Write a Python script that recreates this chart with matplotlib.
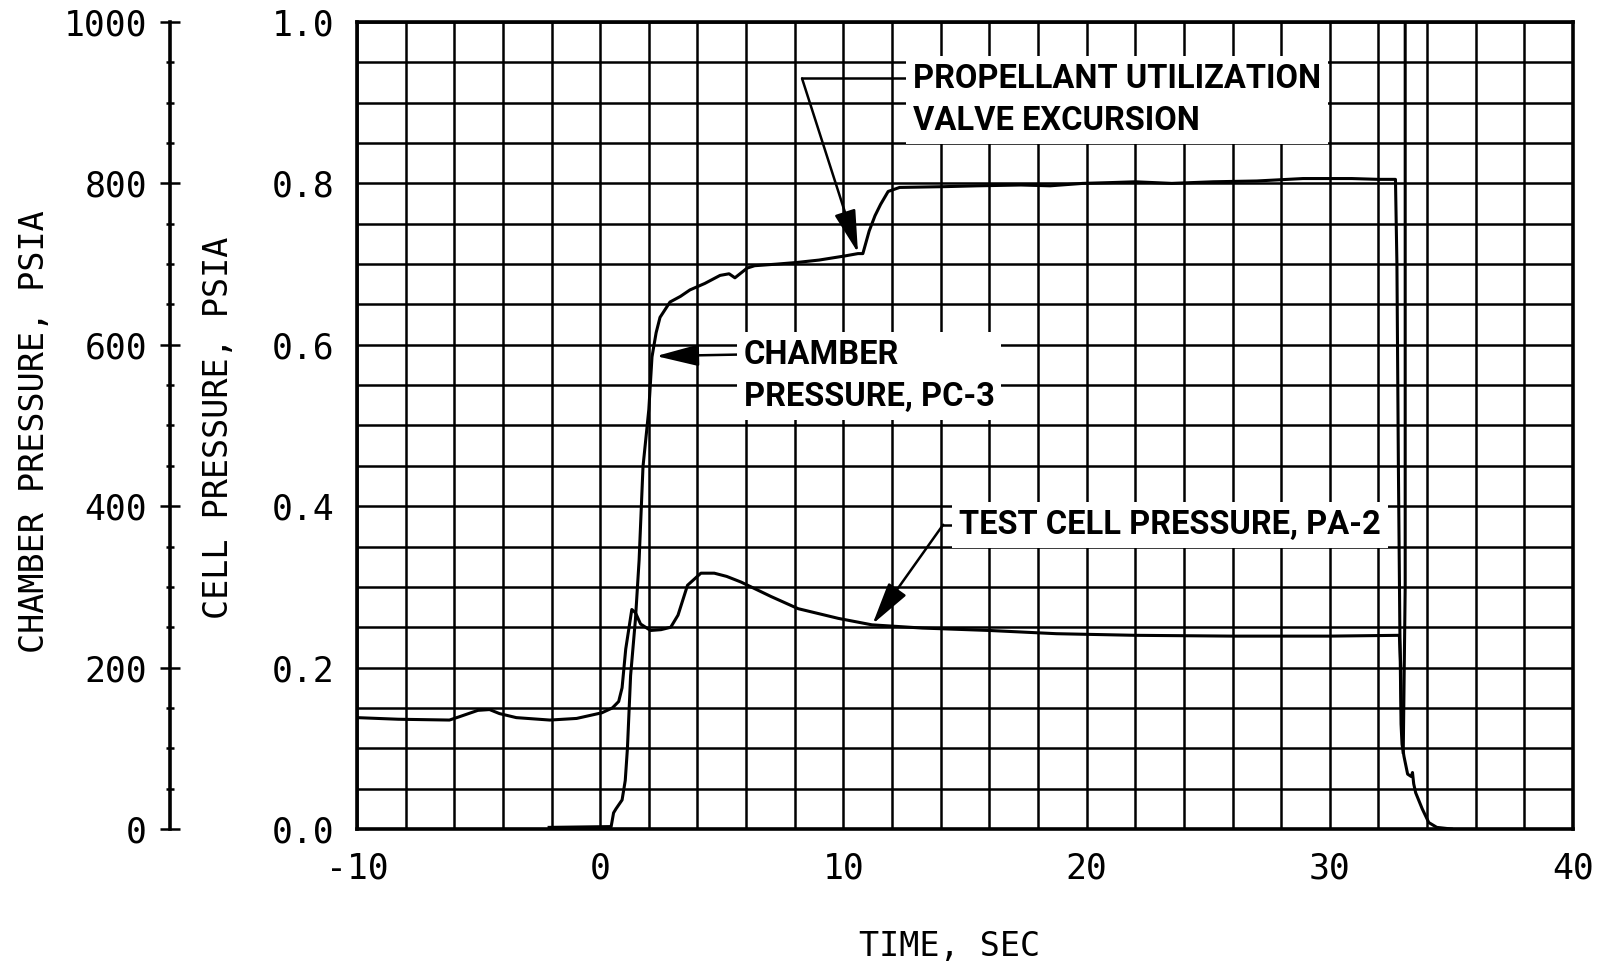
import matplotlib
matplotlib.use('Agg')
import matplotlib.pyplot as plt
from matplotlib.ticker import MultipleLocator, FormatStrFormatter

# chamber pressure PC-3 (psia) vs time (sec)
chamber_t = [-2.1, 0.45, 0.55, 0.65, 0.9, 1.03, 1.12, 1.25, 1.45, 1.6, 1.76, 2.0, 2.13,
             2.3, 2.46, 2.87, 3.3, 3.69, 4.3, 4.93, 5.3, 5.54, 6.04, 6.35, 7.27, 8.08,
             9.0, 10.04, 10.6, 10.8, 11.06, 11.3, 11.53, 11.84, 12.31, 14.2, 15.5, 17.3,
             18.5, 19.84, 21.0, 22.0, 23.5, 25.2, 27.0, 28.9, 30.9, 32.0, 32.7,
             32.76, 32.82, 32.88, 32.93, 32.97, 33.05, 33.2, 33.35, 33.4, 33.45, 33.53,
             33.8, 34.07, 34.4, 35.0]
chamber_psia = [2, 3, 20, 25, 36, 60, 100, 190, 260, 333, 449, 520, 585,
                615, 634, 653, 660, 668, 676, 686, 688, 683, 695, 698, 700, 702,
                705, 710, 713, 713, 741, 760, 774, 790, 795, 796, 797, 798,
                797, 800, 801, 802, 800, 802, 803, 806, 806, 805, 805,
                700, 450, 250, 130, 105, 90, 68, 65, 70, 56, 45,
                25, 8, 2, 0]

# pen trace at shutdown
shutdown_t = [33.1, 33.1, 33.02]
shutdown_psia = [1000, 300, 95]

# test cell pressure PA-2 (psia) vs time (sec)
cell_t = [-10, -8.3, -6.2, -5.8, -5.03, -4.55, -4.14, -3.45, -2.07, -0.97, 0.07, 0.5,
          0.76, 0.9, 1.05, 1.3, 1.45, 1.66, 2.07, 2.5, 2.9, 3.2, 3.59, 4.14, 4.69,
          5.2, 5.79, 7.03, 8.14, 9.79, 11.17, 13.24, 16.0, 18.76, 22.0, 26.0, 30.0,
          32.86, 32.92, 32.96]
cell_psia = [0.138, 0.136, 0.135, 0.139, 0.147, 0.148, 0.143, 0.138, 0.135, 0.137, 0.144, 0.150,
             0.158, 0.175, 0.223, 0.272, 0.268, 0.254, 0.246, 0.247, 0.250, 0.265, 0.302, 0.317, 0.317,
             0.313, 0.306, 0.288, 0.273, 0.261, 0.253, 0.249, 0.246, 0.242, 0.240, 0.239, 0.239,
             0.240, 0.200, 0.120]

x_ticks = [-10, 0, 10, 20, 30, 40]
cell_ticks = [0.0, 0.2, 0.4, 0.6, 0.8, 1.0]
chamber_ticks = [0, 200, 400, 600, 800, 1000]

mono = 'DejaVu Sans Mono'
narrow = ['Roboto', 'DejaVu Sans']
plt.rcParams['axes.unicode_minus'] = False

fig = plt.figure(figsize=(15.99, 9.68), dpi=100)
ax = fig.add_axes([0.22326, 0.14360, 0.76048, 0.83368])

ax.set_xlim(-10, 40)
ax.set_ylim(0, 1.0)
ax.set_xticks(x_ticks)
ax.set_yticks(cell_ticks)
ax.xaxis.set_minor_locator(MultipleLocator(2))
ax.yaxis.set_minor_locator(MultipleLocator(0.05))
ax.yaxis.set_major_formatter(FormatStrFormatter('%.1f'))
ax.set_axisbelow(True)
ax.grid(which='both', color='black', lw=1.8)
ax.tick_params(which='both', length=0)
ax.tick_params(axis='x', pad=16)
ax.tick_params(axis='y', pad=16)
for lab in ax.get_xticklabels() + ax.get_yticklabels():
    lab.set_fontfamily(mono)
    lab.set_fontsize(25)
for s in ax.spines.values():
    s.set_linewidth(2.6)

ax.plot(cell_t, cell_psia, color='black', lw=2.2, zorder=2)

ax.set_xlabel('TIME, SEC', fontfamily=mono, fontsize=24, va='center')
ax.xaxis.set_label_coords(0.4877, -0.146)
ax.set_ylabel('CELL PRESSURE, PSIA', fontfamily=mono, fontsize=24, va='center')
ax.yaxis.set_label_coords(-0.1143, 0.497)

# chamber pressure scale on the far left
ax2 = ax.twinx()
ax2.set_ylim(0, 1000)
ax2.spines['left'].set_position(('axes', -0.1538))
ax2.spines['left'].set_visible(True)
ax2.spines['left'].set_linewidth(2.6)
for side in ['right', 'top', 'bottom']:
    ax2.spines[side].set_visible(False)
ax2.yaxis.set_ticks_position('left')
ax2.yaxis.set_label_position('left')
ax2.set_yticks(chamber_ticks)
ax2.yaxis.set_minor_locator(MultipleLocator(50))
ax2.tick_params(axis='y', which='major', direction='inout', length=15, width=1.8, pad=9)
ax2.tick_params(axis='y', which='minor', direction='inout', length=6, width=1.8)
for lab in ax2.get_yticklabels():
    lab.set_fontfamily(mono)
    lab.set_fontsize(25)
ax2.set_ylabel('CHAMBER PRESSURE, PSIA', fontfamily=mono, fontsize=24, va='center')
ax2.yaxis.set_label_coords(-0.2648, 0.492)

ax2.plot(chamber_t, chamber_psia, color='black', lw=2.2)
ax2.plot(shutdown_t, shutdown_psia, color='black', lw=2.2)

# annotations
arrow = dict(arrowstyle='-|>,head_length=1.1,head_width=0.28', mutation_scale=24,
             color='black', lw=1.8, shrinkA=0, shrinkB=0)
box = dict(facecolor='white', edgecolor='none', pad=5)
txt = dict(fontfamily=narrow, fontsize=23.5, fontweight='bold', va='center', ha='left',
           linespacing=1.4, bbox=box, zorder=4)
gap = 0.053

pu_knee, pu_tip, pu_text = (8.3, 0.930), (10.6, 0.714), (12.85, 0.930)
ax.annotate('', xy=pu_tip, xytext=pu_knee, arrowprops=arrow, zorder=4)
ax.plot([pu_knee[0], pu_text[0]], [pu_knee[1], pu_text[1]], color='black', lw=1.8, zorder=3)
ax.text(pu_text[0], pu_text[1] - gap / 2, 'PROPELLANT UTILIZATION\nVALVE EXCURSION', **txt)

pc_tip, pc_text = (2.3, 0.586), (5.9, 0.588)
ax.annotate('', xy=pc_tip, xytext=pc_text, arrowprops=arrow, zorder=4)
ax.text(pc_text[0], pc_text[1] - gap / 2, 'CHAMBER\nPRESSURE, PC-3', **txt)

pa_knee, pa_tip, pa_text = (14.1, 0.377), (11.2, 0.254), (14.75, 0.377)
ax.annotate('', xy=pa_tip, xytext=pa_knee, arrowprops=arrow, zorder=4)
ax.plot([pa_knee[0], pa_text[0]], [pa_knee[1], pa_text[1]], color='black', lw=1.8, zorder=3)
ax.text(pa_text[0], pa_text[1], 'TEST CELL PRESSURE, PA-2', **txt)

fig.savefig('out.png', dpi=100)
